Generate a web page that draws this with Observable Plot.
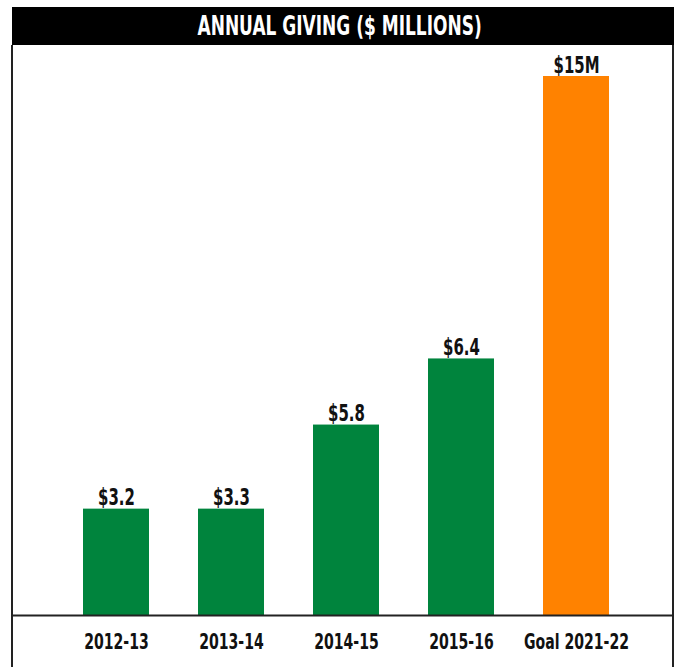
<!DOCTYPE html>
<html>
<head>
<meta charset="utf-8">
<script src="https://cdn.jsdelivr.net/npm/d3@7"></script>
<script src="https://cdn.jsdelivr.net/npm/@observablehq/plot@0.6"></script>
<style>
  html, body { margin: 0; padding: 0; background: #fff; }
  body { width: 675px; height: 667px; position: relative; overflow: hidden;
         font-family: "DejaVu Sans", sans-serif; }
  #title { position: absolute; left: 12px; top: 7px; width: 662px; height: 38px; background: #000;
           color: #fff; font-weight: bold; font-size: 27px; line-height: 38px; text-align: center; }
  #title span { display: inline-block; transform: scaleX(0.63); transform-origin: center; white-space: nowrap; margin-left: -6px; }
  #frame { position: absolute; left: 11px; top: 45px; width: 659px; height: 622px;
           border-left: 2px solid #222; border-right: 2px solid #222; }
  #chart { position: absolute; left: 0; top: 45px; }
</style>
</head>
<body>
<div id="title"><span>ANNUAL GIVING ($ MILLIONS)</span></div>
<div id="frame"></div>
<div id="chart"></div>
<script>
const categories = ["2012-13", "2013-14", "2014-15", "2015-16", "Goal 2021-22"];
const labels = ["$3.2", "$3.3", "$5.8", "$6.4", "$15M"];
// bar lengths as drawn in the picture ($ millions, scaled to the $15M goal bar)
const barValues = [2.96, 2.96, 5.30, 7.14, 15];
const colors = ["#00843D", "#00843D", "#00843D", "#00843D", "#FF8200"];

const data = categories.map((c, i) => ({ category: c, value: barValues[i], label: labels[i], color: colors[i] }));

const chart = Plot.plot({
  width: 675,
  height: 622,
  marginLeft: 12,
  marginRight: 3,
  marginTop: 31,
  marginBottom: 52,
  style: { fontFamily: '"DejaVu Sans", sans-serif', background: "transparent", overflow: "visible" },
  x: { domain: categories, range: [82, 609], paddingInner: 0.427, paddingOuter: 0, label: null },
  y: { domain: [0, 15], axis: null },
  marks: [
    Plot.barY(data, { x: "category", y: "value", fill: "color" }),
    Plot.ruleY([0], { stroke: "#222", strokeWidth: 2 }),
    Plot.text(data, { x: "category", y: "value", text: "label", lineAnchor: "bottom", dy: -4,
                      fontSize: 23, fontWeight: "bold", fill: "#111" }),
    Plot.axisX({ tickSize: 0, tickPadding: 18, fontSize: 22, fontWeight: "bold", fill: "#111", label: null })
  ]
});
document.getElementById("chart").appendChild(chart);
// condense the text horizontally (about its anchor point) to mimic the condensed typeface of the reference
d3.select(chart).selectAll("text").each(function () {
  const g = this.closest("g[aria-label]");
  const lab = g ? g.getAttribute("aria-label") : "";
  const s = lab && lab.includes("tick label") ? 0.64 : 0.65;
  const t = this.getAttribute("transform");
  if (t) {
    this.setAttribute("transform", `${t} scale(${s},1)`);
  } else {
    const x = +this.getAttribute("x") || 0, y = +this.getAttribute("y") || 0;
    this.removeAttribute("x"); this.removeAttribute("y");
    this.setAttribute("transform", `translate(${x},${y}) scale(${s},1)`);
  }
});
</script>
</body>
</html>
